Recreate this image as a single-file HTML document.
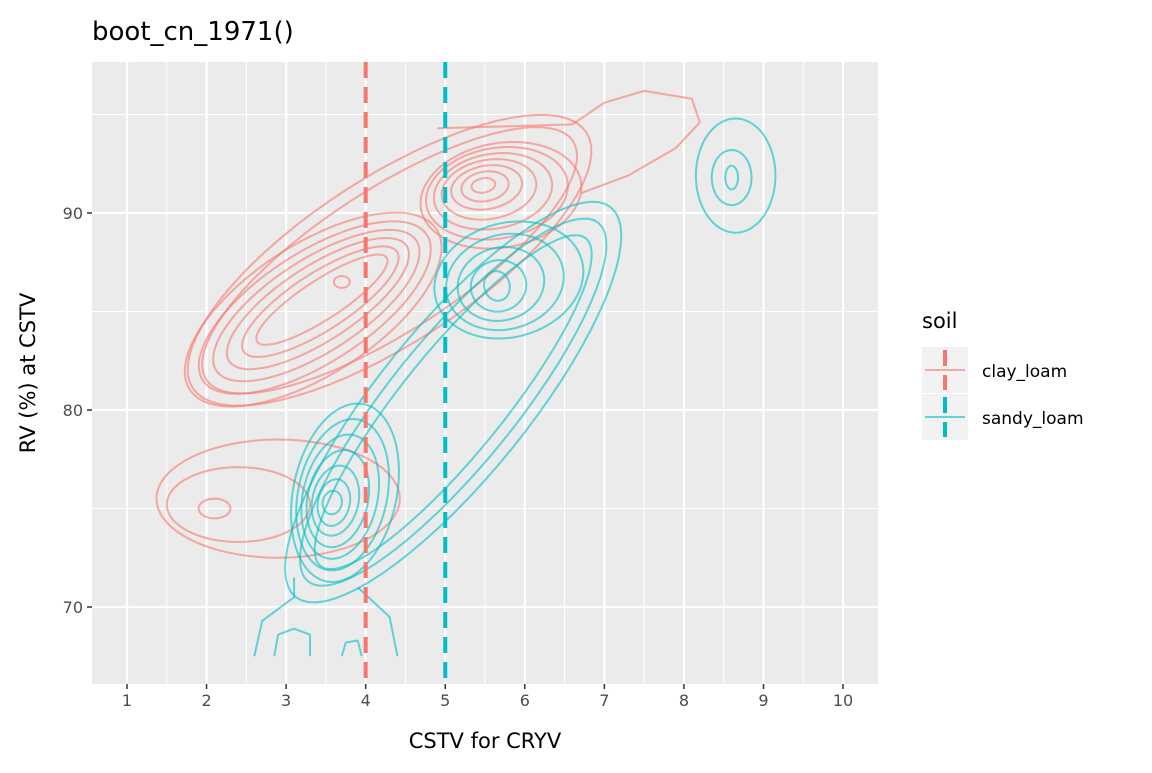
<!DOCTYPE html>
<html><head><meta charset="utf-8"><style>
body{margin:0;background:#fff;font-family:"Liberation Sans","DejaVu Sans",sans-serif}
svg text{font-family:"DejaVu Sans","Liberation Sans",sans-serif}
</style></head><body>
<svg id="c" width="1152" height="768" xmlns="http://www.w3.org/2000/svg"></svg>
<script>
// data
const xTicks=[1,2,3,4,5,6,7,8,9,10];
const yTicks=[70,80,90];
const vlineClay=4, vlineSandy=5;
// ellipse contours: [cx, cy, a (x units), b (y units), screen angle deg]
const clayRings=[
 [5.48,91.4,0.15,0.36,-10],[5.5,91.35,0.3,0.75,-10],[5.52,91.3,0.45,1.1,-10],[5.55,91.2,0.6,1.5,-10],[5.6,91.1,0.75,1.9,-10],[5.65,91.0,0.9,2.3,-10],[5.7,90.9,1.02,2.65,-10],
 [3.45,85.6,0.97,1.0,-33],[3.43,85.5,1.15,1.45,-33],[3.4,85.4,1.33,1.9,-33],[3.38,85.3,1.5,2.35,-33],[3.36,85.2,1.68,2.8,-33],[3.34,85.1,1.85,3.3,-33],
 [4.3,87.6,2.75,3.6,-33],[4.3,87.6,2.95,4.2,-33],
 [2.1,75.0,0.2,0.5,0],[2.4,75.2,0.9,1.9,0],[2.9,75.5,1.53,3.0,0],
 [3.7,86.5,0.1,0.3,0]
];
const sandyRings=[
 [5.65,86.3,0.16,0.76,-15],[5.67,86.3,0.35,1.3,-15],[5.7,86.4,0.55,1.85,-15],[5.75,86.5,0.75,2.4,-15],[5.8,86.6,0.95,2.9,-15],
 [3.58,75.3,0.12,0.6,12],[3.6,75.3,0.2,1.2,12],[3.62,75.4,0.29,1.8,12],[3.65,75.5,0.38,2.5,12],[3.68,75.6,0.47,3.2,12],[3.71,75.7,0.56,3.9,12],[3.74,75.8,0.65,4.6,12],
 [5.1,80.4,2.65,2.6,-51],[5.1,80.4,2.9,3.2,-51],[5.1,80.4,3.15,3.8,-51],
 [8.6,91.8,0.08,0.6,0],[8.6,91.8,0.25,1.4,0],[8.65,91.9,0.5,2.9,0]
];
const clayTailX=[4.9,6.6,7.0,7.5,8.1,8.2,7.9,7.3,6.7];
const clayTailY=[94.3,94.5,95.6,96.2,95.8,94.6,93.3,91.9,91.0];
const sandyLegs=[
 {x:[2.6,2.7,3.1,3.1],y:[67.5,69.3,70.5,71.5]},
 {x:[4.4,4.3,3.9],y:[67.5,69.5,71]},
 {x:[2.85,2.9,3.1,3.3,3.3],y:[67.5,68.6,68.9,68.6,67.5]},
 {x:[3.7,3.75,3.9,3.95],y:[67.5,68.2,68.3,67.5]}
];
const svg=document.getElementById('c');const NS='http://www.w3.org/2000/svg';
const L=92,R=878,T=62,B=684;
const X=v=>127+(v-1)*79.56, Y=v=>607-(v-70)*19.7;
function el(t,a,p){const e=document.createElementNS(NS,t);for(const k in a)e.setAttribute(k,a[k]);(p||svg).appendChild(e);return e;}
const panel=el('rect',{x:L,y:T,width:R-L,height:B-T,fill:'#EBEBEB'});


for(let i=0;i<=10;i++){const v=0.5+i;const x=X(v);if(x>L&&x<R){const g=el('line',{x1:x,x2:x,y1:T,y2:B,stroke:'#fff','stroke-width':1});}}
[65,75,85,95].forEach(v=>{const y=Y(v);if(y>T&&y<B){const g=el('line',{x1:L,x2:R,y1:y,y2:y,stroke:'#fff','stroke-width':1});}});
xTicks.forEach(v=>{const x=X(v);const g=el('line',{x1:x,x2:x,y1:T,y2:B,stroke:'#fff','stroke-width':2.2});
 el('line',{x1:x,x2:x,y1:B,y2:B+5,stroke:'#333','stroke-width':1.5});
 const t=el('text',{x:x,y:B+22,'text-anchor':'middle','font-size':16,fill:'#4d4d4d'});t.textContent=v;});
yTicks.forEach(v=>{const y=Y(v);const g=el('line',{x1:L,x2:R,y1:y,y2:y,stroke:'#fff','stroke-width':2.2});
 el('line',{x1:L-5,x2:L,y1:y,y2:y,stroke:'#333','stroke-width':1.5});
 const t=el('text',{x:L-9,y:y+6,'text-anchor':'end','font-size':16,fill:'#4d4d4d'});t.textContent=v;});
const clip=el('clipPath',{id:'cp'});el('rect',{x:L,y:T,width:R-L,height:B-T},clip);
const gC=el('g',{'clip-path':'url(#cp)'});
function ell(r,col,name){const [cx,cy,a,b,ang]=r;const px=X(cx),py=Y(cy),th=ang*Math.PI/180;let d='';
 for(let i=0;i<=72;i++){const t=i/72*2*Math.PI;const u=a*79.56*Math.cos(t),w=b*19.7*Math.sin(t);
  const x=px+u*Math.cos(th)-w*Math.sin(th),y=py+u*Math.sin(th)+w*Math.cos(th);d+=(i?'L':'M')+x.toFixed(1)+','+y.toFixed(1);}
 const p=el('path',{d:d+'Z',fill:'none',stroke:col,'stroke-width':2,'stroke-opacity':0.6},gC);
 
 }
function pl(xs,ys,col,name){const d=xs.map((v,i)=>(i?'L':'M')+X(v)+','+Y(ys[i])).join('');
 const p=el('path',{d:d,fill:'none',stroke:col,'stroke-width':2,'stroke-opacity':0.6,'stroke-linejoin':'round'},gC);
 
 }
clayRings.forEach(r=>ell(r,'#F8766D','clay-loam-contour'));
pl(clayTailX,clayTailY,'#F8766D','clay-loam-contour-tail');
sandyRings.forEach(r=>ell(r,'#00BFC4','sandy-loam-contour'));
sandyLegs.forEach(s=>pl(s.x,s.y,'#00BFC4','sandy-loam-contour-edge'));
const v1=el('line',{x1:X(vlineClay),x2:X(vlineClay),y1:T,y2:B,stroke:'#F8766D','stroke-width':4,'stroke-dasharray':'16,9'});

const v2=el('line',{x1:X(vlineSandy),x2:X(vlineSandy),y1:T,y2:B,stroke:'#00BFC4','stroke-width':4,'stroke-dasharray':'16,9'});

function txt(s,a,name){const t=el('text',a);t.textContent=s;return t;}
txt('boot_cn_1971()',{x:92,y:40,'font-size':26,fill:'#000'},'chart-title');
txt('CSTV for CRYV',{x:485,y:748,'text-anchor':'middle','font-size':21,fill:'#000'},'x-axis-title');
txt('RV (%) at CSTV',{x:0,y:0,'text-anchor':'middle','font-size':21,fill:'#000',transform:'translate(35,373) rotate(-90)'},'y-axis-title');
txt('soil',{x:922,y:328,'font-size':21,fill:'#000'},'legend-title');
[['clay_loam','#F8766D',347],['sandy_loam','#00BFC4',394]].forEach(([n,c,y])=>{
 const g=el('g',{});
 el('rect',{x:922,y:y,width:46,height:46,fill:'#F2F2F2'},g);
 el('line',{x1:925,x2:965,y1:y+23,y2:y+23,stroke:c,'stroke-width':2,'stroke-opacity':0.6},g);
 el('line',{x1:945,x2:945,y1:y+3,y2:y+43,stroke:c,'stroke-width':4,'stroke-dasharray':'16,9'},g);
 const t=el('text',{x:982,y:y+30,'font-size':17,fill:'#000'},g);t.textContent=n;});
</script>
</body></html>
